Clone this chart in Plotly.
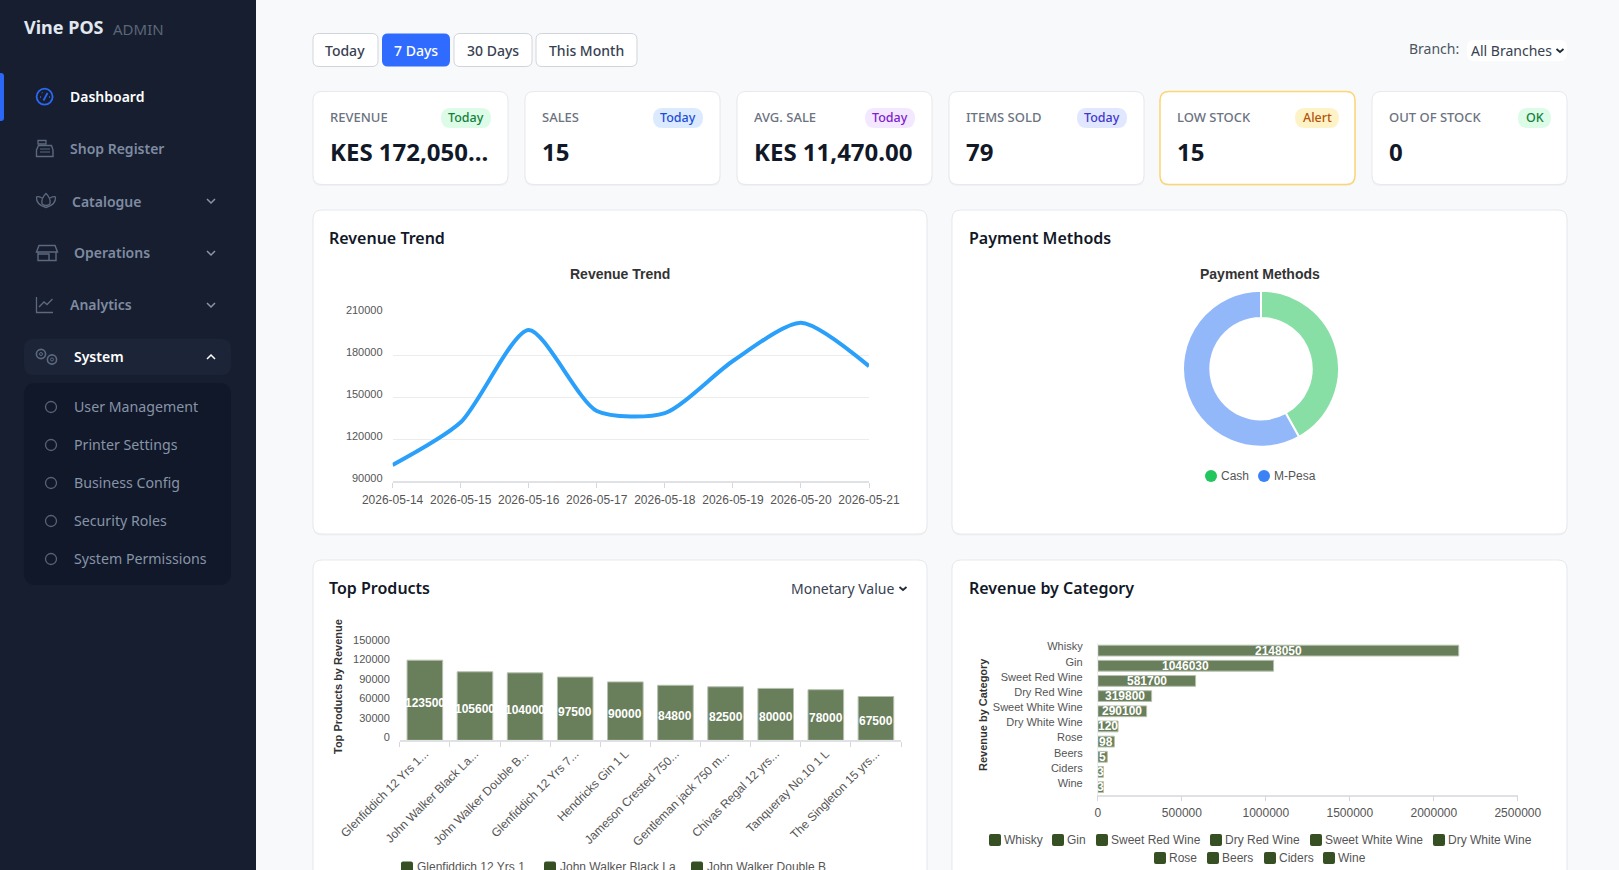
import plotly.graph_objects as go

W, H = 1619, 870

# chart data
trend_dates = ["2026-05-14", "2026-05-15", "2026-05-16", "2026-05-17",
               "2026-05-18", "2026-05-19", "2026-05-20", "2026-05-21"]
trend_values = [101400, 131900, 197900, 140000, 138500, 175700, 203100, 172050]

pay_labels = ["Cash", "M-Pesa"]
pay_values = [72100, 99950]

top_names = ["Glenfiddich 12 Yrs 1...", "John Walker Black La...", "John Walker Double B...",
             "Glenfiddich 12 Yrs 7...", "Hendricks Gin 1 L", "Jameson Crested 750...",
             "Gentleman jack 750 m...", "Chivas Regal 12 yrs...", "Tanqueray No.10 1 L",
             "The Singleton 15 yrs..."]
top_values = [123500, 105600, 104000, 97500, 90000, 84800, 82500, 80000, 78000, 67500]
top_legend = ["Glenfiddich 12 Yrs 1", "John Walker Black La", "John Walker Double B"]

cat_names = ["Whisky", "Gin", "Sweet Red Wine", "Dry Red Wine", "Sweet White Wine",
             "Dry White Wine", "Rose", "Beers", "Ciders", "Wine"]
cat_values = [2148050, 1046030, 581700, 319800, 290100, 120000, 98000, 56000, 33000, 33000]
cat_bar_labels = ["2148050", "1046030", "581700", "319800", "290100", "120", "98", "5", "3", "3"]

# page text
kpi_labels = ["REVENUE", "SALES", "AVG. SALE", "ITEMS SOLD", "LOW STOCK", "OUT OF STOCK"]
kpi_values = ["KES 172,050...", "15", "KES 11,470.00", "79", "15", "0"]
kpi_badges = ["Today", "Today", "Today", "Today", "Alert", "OK"]
kpi_badge_bg = ["#dcfce7", "#dbeafe", "#f3e8ff", "#e0e7ff", "#fef3c7", "#dcfce7"]
kpi_badge_fg = ["#15803d", "#1d4ed8", "#7e22ce", "#4338ca", "#b45309", "#15803d"]
kpi_left = [313, 525, 737, 949, 1160, 1372]
kpi_badge_x = [(441, 491), (653, 703), (865, 915), (1077, 1127), (1295, 1339), (1518, 1551)]

range_buttons = ["Today", "7 Days", "30 Days", "This Month"]
range_x = [(313, 378), (382, 450), (454, 532), (536, 637)]

menu_main = [("Dashboard", 70, 97), ("Shop Register", 70, 149), ("Catalogue", 72, 201),
             ("Operations", 74, 252), ("Analytics", 70, 304), ("System", 74, 356)]
menu_sub = [("User Management", 407), ("Printer Settings", 445), ("Business Config", 483),
            ("Security Roles", 521), ("System Permissions", 559)]

SANS = "Noto Sans"
CHART = "Liberation Sans"
BLUE = "#2b68f6"
ICON = "#5d697f"

shapes = []
notes = []


def fx(x):
    return x / W


def fy(y):
    return 1 - y / H


def path(d):
    # px coordinates -> paper coordinates
    out, is_x = [], True
    for tok in d.split():
        if tok.isalpha():
            out.append(tok)
        else:
            out.append(str(round(fx(float(tok)) if is_x else fy(float(tok)), 5)))
            is_x = not is_x
    return " ".join(out)


def rrect(x0, y0, x1, y1, r, fill, line=None, lw=1):
    d = (f"M {x0+r} {y0} L {x1-r} {y0} Q {x1} {y0} {x1} {y0+r} L {x1} {y1-r} "
         f"Q {x1} {y1} {x1-r} {y1} L {x0+r} {y1} Q {x0} {y1} {x0} {y1-r} "
         f"L {x0} {y0+r} Q {x0} {y0} {x0+r} {y0} Z")
    shapes.append(dict(type="path", xref="paper", yref="paper", path=path(d), fillcolor=fill,
                       line=dict(color=line or fill, width=lw if line else 0), layer="below"))


def card(x0, y0, x1, y1, line="#e7e9ee", lw=1):
    # faint shadow, then the card
    rrect(x0 - 0.5, y0 + 1, x1 + 0.5, y1 + 1.5, 9, "#f0f1f4")
    rrect(x0, y0, x1, y1, 9, "#ffffff", line, lw)


def stroke(d, color=ICON, lw=1.5):
    shapes.append(dict(type="path", xref="paper", yref="paper", path=path(d),
                       line=dict(color=color, width=lw), layer="below"))


def circle(cx, cy, r, line=None, fill=None, lw=1.5):
    shapes.append(dict(type="circle", xref="paper", yref="paper",
                       x0=fx(cx - r), x1=fx(cx + r), y0=fy(cy + r), y1=fy(cy - r),
                       fillcolor=fill or "rgba(0,0,0,0)",
                       line=dict(color=line or "rgba(0,0,0,0)", width=lw if line else 0),
                       layer="below"))


def text(x, y, s, size=14, color="#374151", family=SANS, weight=400, anchor="left", angle=0):
    if anchor == "left":
        x -= 1
    notes.append(dict(xref="paper", yref="paper", x=fx(x), y=fy(y), text=s, showarrow=False,
                      xanchor=anchor, yanchor="middle", borderpad=0, textangle=angle,
                      font=dict(family=family, size=size, color=color, weight=weight)))


def chevron(x, y, color="#8b95a7", up=False):
    d = -1 if up else 1
    stroke(f"M {x-4} {y-2*d} L {x} {y+2*d} L {x+4} {y-2*d}", color, 1.5)


# ---- sidebar
rrect(-10, -10, 256, 880, 0, "#161e2f")
rrect(-6, 73, 4, 121, 3, BLUE)
text(24, 27, "Vine POS", 18, "#e2e8f0", weight=700)
text(113, 29, "ADMIN", 15, "#5b6678")
for name, x, y in menu_main:
    active = name in ("Dashboard", "System")
    if name == "System":
        rrect(24, 339, 231, 375, 10, "#1c2537")
    text(x, y, name, 14, "#ffffff" if active else "#7f8ba1", weight=600)
rrect(24, 383, 231, 585, 12, "#111829")
for name, y in menu_sub:
    circle(51, y, 5.5, "#566276", lw=1.3)
    text(74, y - 1, name, 14.2, "#8794a8")
chevron(211, 201)
chevron(211, 253)
chevron(211, 305)
chevron(211, 357, "#ffffff", up=True)

# sidebar icons
circle(44.6, 96.7, 8, BLUE, lw=1.8)
stroke("M 43.5 100.5 L 47.5 93", BLUE, 1.8)
stroke("M 40 97 L 41 97 M 42 92.5 L 42.5 93 M 49 97 L 50 97", BLUE, 1.4)
stroke("M 38 140.5 L 46 140.5 L 46 144 L 38 144 Z", ICON, 1.3)
stroke("M 38.5 145.5 L 51.5 145.5 L 53 150 L 53 156.5 L 36.5 156.5 L 36.5 150 Z", ICON, 1.4)
stroke("M 40 149 L 50 149 M 40 152 L 50 152", ICON, 1.2)
stroke("M 46 193.5 Q 41 198 42 204 Q 46 207 50 204 Q 51 198 46 193.5 Z", ICON, 1.3)
stroke("M 42 198 Q 38 196 36.5 197 Q 36 205 46 207.5 Q 56 205 55.5 197 Q 54 196 50 198", ICON, 1.3)
stroke("M 39 245.5 L 55 245.5 L 57.5 252 L 36.5 252 Z", ICON, 1.4)
stroke("M 38 252 L 38 260.5 L 56 260.5 L 56 252 M 38.5 254 L 49 254 L 49 260.5", ICON, 1.4)
stroke("M 36.5 297 L 36.5 312.5 L 53 312.5", ICON, 1.3)
stroke("M 39 307 L 44 302 L 47 304.5 L 52.5 299", ICON, 1.3)
for cx, cy in ((41, 354), (52, 359.5)):
    circle(cx, cy, 4.6, ICON, lw=1.6)
    circle(cx, cy, 1.5, ICON, lw=1)

# ---- header row
for (x0, x1), label in zip(range_x, range_buttons):
    active = label == "7 Days"
    rrect(x0, 33.5, x1, 66.5, 6, "#2f6bff" if active else "#ffffff", None if active else "#d1d5db", 1)
    text((x0 + x1) / 2 - 0.5, 50, label, 14, "#ffffff" if active else "#374151", anchor="center", weight=500)
text(1409, 49, "Branch:", 14, "#4b5563")
rrect(1467, 40, 1567, 61, 7, "#ffffff")
text(1471, 50, "All Branches", 14, "#374151")
stroke("M 1556.5 49 L 1560 52 L 1563.5 49", "#1f2937", 1.8)

# ---- KPI cards
for i in range(6):
    x0 = kpi_left[i]
    low = kpi_labels[i] == "LOW STOCK"
    card(x0, 91.5, x0 + 195, 184.5, "#fcd574" if low else "#e7e9ee", 1.5 if low else 1)
    text(x0 + 16.5, 117, kpi_labels[i], 13, "#6b7280", weight=500)
    bx0, bx1 = kpi_badge_x[i]
    rrect(bx0, 108, bx1, 128, 10, kpi_badge_bg[i])
    text((bx0 + bx1) / 2, 117.5, kpi_badges[i], 12.5, kpi_badge_fg[i], anchor="center", weight=500)
    text(x0 + 16.5, 151.5, kpi_values[i], 24, "#111827", weight=700)

# ---- chart cards
for x0, x1 in ((313, 927), (952, 1567)):
    card(x0, 210, x1, 534)
    card(x0, 560, x1, 900)
text(329, 238, "Revenue Trend", 16, "#111827", weight=600)
text(969, 238, "Payment Methods", 16, "#111827", weight=600)
text(329, 588, "Top Products", 16, "#111827", weight=600)
text(969, 588, "Revenue by Category", 16, "#111827", weight=600)
text(791, 588, "Monetary Value", 14, "#374151")
stroke("M 899.5 587 L 903 590 L 906.5 587", "#1f2937", 1.8)

text(620, 274, "Revenue Trend", 14, "#333333", CHART, 700, "center")
text(1260, 274, "Payment Methods", 14, "#333333", CHART, 700, "center")
text(338, 687, "Top Products by Revenue", 11, "#333333", CHART, 700, "center", -90)
text(983, 715, "Revenue by Category", 11, "#333333", CHART, 700, "center", -90)

# payment legend
circle(1211, 476, 6, fill="#22c55e")
text(1221, 476, "Cash", 12, "#555555", CHART)
circle(1264, 476, 6, fill="#3b82f6")
text(1274, 476, "M-Pesa", 12, "#555555", CHART)

# top products legend (rest is below the fold)
for x, name in zip((401, 544, 691), top_legend):
    rrect(x, 861.5, x + 12, 873.5, 2, "#365023")
    text(x + 16, 867, name, 12, "#555555", CHART)

# category legend
for x, y, name in ((989, 840, "Whisky"), (1052, 840, "Gin"), (1096, 840, "Sweet Red Wine"),
                   (1210, 840, "Dry Red Wine"), (1310, 840, "Sweet White Wine"),
                   (1433, 840, "Dry White Wine"), (1154, 858, "Rose"), (1207, 858, "Beers"),
                   (1264, 858, "Ciders"), (1323, 858, "Wine")):
    rrect(x, y - 6, x + 12, y + 6, 2, "#365023")
    text(x + 15, y, name, 12, "#555555", CHART)

fig = go.Figure()

# revenue trend
fig.add_trace(go.Scatter(x=trend_dates, y=trend_values, mode="lines", xaxis="x", yaxis="y",
                         line=dict(color="#2ba0fb", width=4, shape="spline", smoothing=0.7),
                         showlegend=False))

# payment methods
cx, cy, r = 1261, 368.7, 78
fig.add_trace(go.Pie(labels=pay_labels, values=pay_values, hole=0.65, sort=False,
                     direction="clockwise", rotation=0, textinfo="none", showlegend=False,
                     marker=dict(colors=["#88dfa6", "#93b8fa"], line=dict(color="#ffffff", width=2)),
                     domain=dict(x=[fx(cx - r), fx(cx + r)], y=[fy(cy + r), fy(cy - r)])))

# top products
fig.add_trace(go.Bar(x=top_names, y=top_values, xaxis="x2", yaxis="y2", showlegend=False,
                     marker=dict(color="#697e5b", line=dict(color="#b5c0ad", width=1))))
for name, val in zip(top_names, top_values):
    notes.append(dict(xref="x2", yref="y2", x=name, y=val / 2, yshift=-3, text=str(val), showarrow=False,
                      font=dict(family=CHART, size=12, color="#ffffff", weight=700)))

# revenue by category
fig.add_trace(go.Bar(x=cat_values, y=cat_names, orientation="h", xaxis="x3", yaxis="y3", showlegend=False,
                     marker=dict(color="#697e5b", line=dict(color="#b5c0ad", width=1))))
for name, val, lab in zip(cat_names, cat_values, cat_bar_labels):
    notes.append(dict(xref="x3", yref="y3", x=val / 2, y=name, text=lab, showarrow=False,
                      font=dict(family=CHART, size=12, color="#ffffff", weight=700)))

tick_font = dict(family=CHART, size=12, color="#555555")
ytick_font = dict(family=CHART, size=11, color="#555555")
axis_line = "#dfe1e4"

fig.update_layout(
    width=W, height=H, margin=dict(l=0, r=0, t=0, b=0, pad=0), autosize=False,
    paper_bgcolor="#f8f9fb", plot_bgcolor="rgba(0,0,0,0)",
    shapes=shapes, annotations=notes, bargap=0.29, showlegend=False,
    xaxis=dict(domain=[fx(392.6), fx(869)], type="category", categoryorder="array",
               categoryarray=trend_dates, range=[0, 7], tickmode="array", tickvals=trend_dates,
               tickangle=0, ticks="outside", ticklen=5, tickcolor="#d5d7da", showline=True,
               linecolor=axis_line, linewidth=1.5, showgrid=False, tickfont=tick_font,
               ticklabelstandoff=2, fixedrange=True, automargin=False),
    yaxis=dict(domain=[fy(481), fy(313)], range=[90000, 210000], tickmode="array",
               tickvals=[90000, 120000, 150000, 180000, 210000], gridcolor="#ececec", gridwidth=1,
               zeroline=False, showline=False, tickfont=ytick_font, ticklabelstandoff=9,
               ticklabelshift=-3, tickformat="d", fixedrange=True, automargin=False),
    xaxis2=dict(domain=[fx(399.8), fx(901)], type="category", tickangle=-45, ticks="outside",
                ticklen=5, tickcolor="#d5d7da", tickson="boundaries", showline=True, linecolor=axis_line,
                linewidth=1.5, showgrid=False, tickfont=tick_font, anchor="y2", tickmode="linear",
                fixedrange=True, automargin=False),
    yaxis2=dict(domain=[fy(740.3), fy(643)], range=[0, 150000], tickmode="array",
                tickvals=[0, 30000, 60000, 90000, 120000, 150000], showgrid=False, zeroline=False,
                showline=False, tickfont=ytick_font, anchor="x2", ticklabelstandoff=9,
                ticklabelshift=-3, tickformat="d", fixedrange=True, automargin=False),
    xaxis3=dict(domain=[fx(1097.9), fx(1517.8)], range=[0, 2500000], tickmode="array",
                tickvals=[0, 500000, 1000000, 1500000, 2000000, 2500000], ticks="outside", ticklen=5,
                tickcolor="#d5d7da", showline=True, linecolor=axis_line, linewidth=1.5, showgrid=False,
                zeroline=False, tickfont=tick_font, anchor="y3", ticklabelstandoff=1,
                tickformat="d", tickangle=0, fixedrange=True, automargin=False),
    yaxis3=dict(domain=[fy(794.7), fy(643)], type="category", categoryorder="array",
                categoryarray=cat_names, range=[9.5, -0.5], tickmode="linear", showgrid=False,
                showline=True, linecolor="#eceef0", linewidth=1, tickfont=ytick_font, anchor="x3",
                ticklabelstandoff=12, ticklabelshift=4, fixedrange=True, automargin=False),
)

fig.write_html("out.html", config={"displayModeBar": False},
               post_script="document.body.style.margin='0';document.body.style.overflow='hidden';")
